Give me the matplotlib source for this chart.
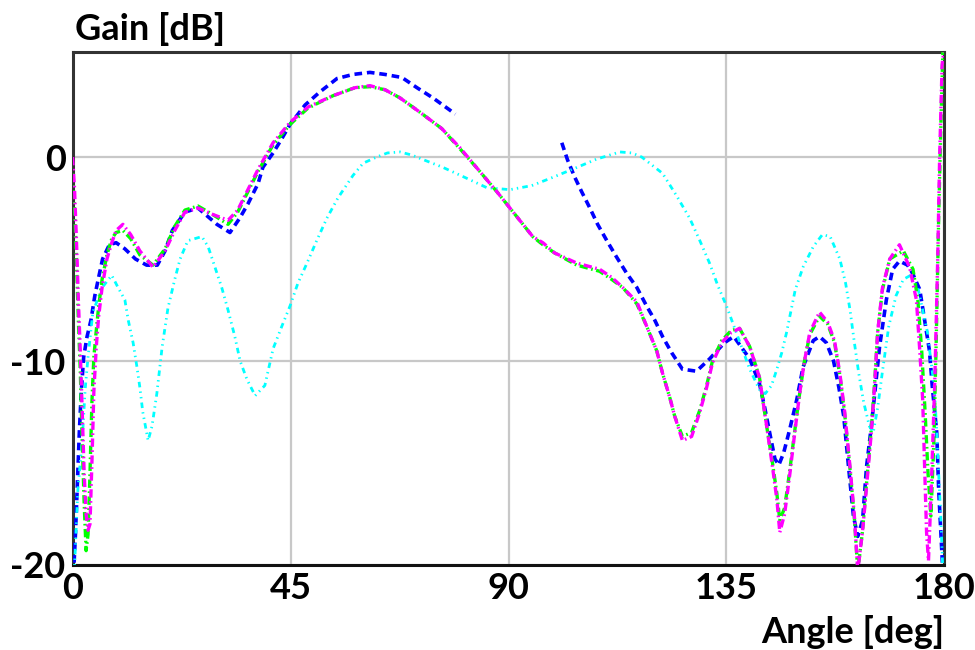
import numpy as np
import matplotlib
matplotlib.use("Agg")
import matplotlib.pyplot as plt

plt.rcParams['font.family'] = ['Lato', 'DejaVu Sans']
plt.rcParams['lines.scale_dashes'] = False

# ---------------- data (angle in deg, gain in dB) ----------------
mag_x = [0, 0.4, 0.8, 1.2, 1.6, 2.0, 2.4, 2.8, 3.2, 3.6, 4.0, 4.4, 4.9, 5.4, 6.1, 7.1, 8.1, 9.0,
         10.4, 12.0, 13.9, 16.6, 19.1, 21.1, 23.2, 25.9, 28.8, 32.1, 34.1, 36.2, 38.3, 41.4, 44.9,
         48.6, 53.7, 58.3, 61.4, 64.5, 67.6, 71.7, 76.2, 80.0, 83.7, 87.6, 91.3, 95.0, 97.1, 99.5,
         104.1, 108.8, 111.3, 113.6, 116.5, 118.7, 120.6, 121.8, 123.3, 124.3, 125.9, 127.8, 129.5,
         130.9, 132.1, 134.0, 136.0, 137.7, 139.8, 141.8, 143.3, 144.5, 145.4, 146.0, 147.0, 148.1,
         149.1, 150.1, 151.1, 152.2, 154.2, 155.9, 157.3, 158.4, 159.4, 160.5, 161.4, 162.1, 163.1,
         163.9, 164.9, 165.6, 166.2, 167.2, 168.7, 170.7, 172.8, 174.2, 174.9, 175.5, 175.9, 176.3,
         176.7, 177.3, 178.0, 178.6, 179.0, 179.5, 180.0]
mag_y = [0, -1.5, -4, -7, -9.5, -12.5, -15.5, -17.5, -18.3, -18.0, -15, -11.5, -9.3, -7.8, -6.4, -5,
         -4.2, -3.6, -3.3, -3.8, -4.6, -5.4, -4.6, -3.6, -2.7, -2.5, -2.8, -3.1, -2.6, -1.6, -0.6,
         0.7, 1.7, 2.45, 3.0, 3.4, 3.5, 3.3, 2.9, 2.2, 1.4, 0.45, -0.6, -1.7, -2.8, -3.9, -4.2, -4.7,
         -5.2, -5.5, -5.9, -6.4, -7.1, -8.4, -9.5, -10.6, -11.8, -12.7, -13.9, -13.7, -12.5, -11.3,
         -10.1, -9.1, -8.6, -8.4, -9.3, -10.8, -13.2, -15.2, -16.8, -18.4, -17.5, -15.5, -13.5,
         -11.6, -10.0, -8.6, -7.6, -8.1, -9.0, -10.6, -12.5, -15.2, -17.6, -20.3, -18.3, -16.2,
         -13.5, -11.1, -8.6, -6.4, -5.0, -4.3, -5.4, -7.0, -9.5, -11.9, -15.2, -18.4, -19.8, -16,
         -11, -5, 0, 4.5, 5.5]

grn_x = [0, 0.4, 0.8, 1.2, 1.6, 2.0, 2.4, 2.8, 3.2, 3.6, 4.0, 4.4, 4.9, 5.4, 6.1, 7.1, 8.1, 9.0,
         10.4, 12.0, 13.9, 16.6, 19.1, 21.1, 23.2, 25.9, 28.8, 32.1, 34.1, 36.2, 38.3, 41.4, 44.9,
         48.6, 53.7, 58.3, 61.4, 64.5, 67.6, 71.7, 76.2, 80.0, 83.7, 87.6, 91.3, 95.0, 97.1, 99.5,
         104.1, 108.8, 111.3, 113.6, 116.5, 118.7, 120.6, 121.8, 123.3, 124.3, 125.9, 127.8, 129.5,
         130.9, 132.1, 134.0, 136.0, 137.7, 139.8, 141.8, 143.3, 144.5, 145.4, 146.0, 147.0, 148.1,
         149.1, 150.1, 151.1, 152.2, 154.2, 155.9, 157.3, 158.4, 159.4, 160.5, 161.4, 162.1, 163.1,
         163.9, 164.9, 165.6, 166.2, 167.2, 168.7, 171.5, 173.5, 174.5, 175.3, 176.0, 176.6, 177.2,
         177.8, 178.3, 178.8, 179.3, 179.7]
grn_y = [-0.8, -2.5, -5, -8, -10.5, -14, -17, -19.3, -18.5, -15.5, -12, -9.8, -8.5, -7.3, -6,
         -4.8, -4.0, -3.7, -3.6, -4.0, -4.8, -5.3, -4.5, -3.4, -2.6, -2.4, -2.8, -3.3, -2.7, -1.7,
         -0.7, 0.6, 1.6, 2.4, 3.0, 3.4, 3.45, 3.3, 2.9, 2.2, 1.4, 0.4, -0.6, -1.7, -2.8, -3.9,
         -4.3, -4.7, -5.3, -5.6, -6.0, -6.4, -7.2, -8.4, -9.5, -10.6, -11.8, -12.7, -13.7, -13.5,
         -12.4, -11.2, -10.0, -9.0, -8.5, -8.4, -9.3, -10.8, -13.2, -15.0, -16.5, -17.8, -17.2,
         -15.3, -13.4, -11.6, -10.0, -8.7, -7.8, -8.2, -9.1, -10.7, -12.6, -15.3, -17.7, -20.3,
         -18.3, -16.0, -13.3, -11.0, -8.6, -6.5, -5.0, -4.6, -5.5, -7.0, -9.5, -12.5, -15.5, -17.6,
         -14, -9, -3, 2, 5.5]

blu_x = [0.2, 0.6, 1.0, 1.4, 1.8, 2.3, 3.0, 3.8, 4.6, 5.3, 6.2, 7.6, 9.0, 10.8, 13.0, 15.3, 17.5,
         19.1, 20.6, 23.2, 25.9, 29.8, 32.5, 34.5, 36.2, 38.3, 39.3, 41.4, 43.2, 44.9, 48.0, 51.1,
         54.6, 57.9, 61.4, 64.5, 68.0, 71.1, 74.4, 77.9, 79.0, 90.0, 101.0, 102.2, 103.7, 105.1,
         106.8, 108.4, 110.3, 112.3, 114.4, 116.5, 118.5, 120.2, 121.8, 123.7, 125.9, 128.8, 131.5,
         134.6, 136.5, 138.3, 139.8, 141.8, 142.9, 143.9, 145.0, 145.8, 146.8, 148.0, 149.5, 150.8,
         152.9, 154.2, 155.6, 157.1, 158.2, 159.2, 160.2, 161.2, 162.1, 163.1, 163.9, 164.9, 165.6,
         166.6, 168.0, 169.3, 170.7, 172.4, 173.4, 174.9, 175.9, 176.9, 177.5, 178.4, 178.8, 179.4,
         179.7]
blu_y = [-20.5, -18.5, -16, -13.5, -11.5, -9.8, -8.8, -8.0, -6.8, -6.0, -5.0, -4.3, -4.2, -4.5,
         -5.0, -5.3, -5.3, -4.6, -3.6, -2.7, -2.5, -3.3, -3.7, -3.0, -2.3, -1.3, -0.5, 0.2, 0.9,
         1.6, 2.55, 3.2, 3.85, 4.05, 4.15, 4.05, 3.9, 3.4, 2.9, 2.3, 2.1, np.nan, 0.7, -0.15, -1.0,
         -1.7, -2.5, -3.3, -4.1, -4.9, -5.7, -6.4, -7.3, -8.0, -8.8, -9.6, -10.4, -10.5, -9.9, -9.1,
         -8.8, -9.4, -9.9, -11.1, -12.3, -13.5, -14.8, -15.1, -14.5, -13.4, -11.9, -10.3, -9.0,
         -8.8, -9.1, -10.0, -11.3, -12.7, -15.2, -17.6, -18.6, -17.8, -15.2, -13.2, -11.6, -9.3,
         -7.0, -5.5, -5.1, -5.3, -5.7, -6.5, -8.0, -9.5, -11.3, -13.5, -16.3, -19.1, -20.5]

cya_x = [0.3, 0.5, 1.1, 2.0, 2.6, 3.2, 4.2, 6.1, 8.1, 9.4, 10.8, 11.5, 12.5, 13.3, 13.9, 14.5,
         15.6, 16.4, 17.4, 18.5, 19.7, 21.1, 22.2, 23.8, 26.7, 28.0, 29.4, 30.8, 32.1, 33.5, 34.6,
         36.0, 37.7, 39.7, 41.4, 43.2, 44.9, 46.5, 48.4, 50.4, 52.5, 54.8, 57.9, 60.0, 62.8, 65.0,
         67.6, 70.0, 72.1, 76.4, 81.0, 85.5, 90.3, 94.8, 99.1, 103.7, 108.2, 113.0, 115.5, 117.5,
         121.8, 124.7, 127.4, 129.5, 131.5, 133.2, 135.0, 136.7, 139.8, 141.8, 143.0, 144.3, 145.4,
         146.4, 147.4, 149.2, 150.8, 152.9, 154.8, 156.4, 158.4, 159.6, 160.5, 161.4, 162.3, 163.3,
         164.5, 165.3, 166.2, 167.2, 168.5, 170.0, 171.5, 173.0, 174.5, 175.5, 176.5, 177.2, 177.9,
         178.3, 178.7, 179.2, 179.7]
cya_y = [-20.5, -19.6, -16.3, -13.9, -11.4, -9.8, -7.6, -6.4, -5.8, -6.4, -7.0, -8.0, -9.1, -10.3,
         -11.3, -12.5, -13.9, -13.2, -11.6, -9.3, -7.4, -6.0, -5.0, -4.1, -3.9, -4.4, -5.4, -6.4,
         -7.5, -8.8, -10.0, -10.9, -11.7, -11.2, -9.4, -8.3, -7.3, -6.2, -5.2, -4.1, -3.0, -2.0,
         -0.9, -0.3, 0.0, 0.2, 0.25, 0.1, -0.1, -0.5, -1.0, -1.5, -1.6, -1.4, -1.0, -0.55, -0.1,
         0.25, 0.2, 0.0, -0.8, -1.9, -3.0, -4.1, -5.2, -6.3, -7.3, -8.4, -10.4, -11.4, -11.6,
         -11.2, -10.4, -9.6, -8.6, -6.5, -5.4, -4.4, -3.8, -3.9, -5.0, -6.2, -7.5, -9.1, -10.6,
         -12.0, -13.2, -13.5, -12.3, -10.5, -8.3, -6.8, -6.0, -5.8, -6.4, -7.5, -8.6, -10.0, -11.3,
         -13.0, -15.0, -17.5, -20.5]

x_ticks = [0, 45, 90, 135, 180]
x_ticklabels = ["0", "45", "90", "135", "180"]
y_ticks = [0, -10, -20]
y_ticklabels = ["0", "-10", "-20"]

# ---------------- figure ----------------
fig = plt.figure(figsize=(9.75, 6.5), dpi=100)
ax = fig.add_axes([0.0744, 0.1308, 0.8943, 0.7892])

ax.plot(blu_x, blu_y, color='#0000ff', lw=2.6, dashes=(5.5, 3.5), zorder=3)
ax.plot(cya_x, cya_y, color='#00ffff', lw=2.0, dashes=(4, 3, 1, 3, 1, 3), zorder=3)
ax.plot(grn_x, grn_y, color='#00ff00', lw=2.4, dashes=(6, 2.5, 1.2, 2.5), zorder=4)
ax.plot(mag_x, mag_y, color='#ff00ff', lw=2.4, dashes=(6, 2.5, 1.2, 2.5), zorder=4)

ax.set_xlim(0, 180)
ax.set_ylim(-20, 5.15)
ax.set_xticks(x_ticks)
ax.set_xticklabels(x_ticklabels)
ax.set_yticks(y_ticks)
ax.set_yticklabels(y_ticklabels)
ax.grid(True, color='#c8c8c8', lw=1.6)
ax.set_axisbelow(True)
ax.tick_params(length=0, labelsize=26, pad=5)
for lab in ax.get_xticklabels() + ax.get_yticklabels():
    lab.set_fontweight('bold')
for s in ax.spines.values():
    s.set_color('#333333')
    s.set_linewidth(2.2)
ax.spines['bottom'].set_color('#111111')

fig.text(0.077, 0.93, "Gain [dB]", fontsize=26, fontweight='bold', ha='left', va='bottom')
fig.text(0.969, 0.002, "Angle [deg]", fontsize=26, fontweight='bold', ha='right', va='bottom')

fig.savefig("out.png", dpi=100)
